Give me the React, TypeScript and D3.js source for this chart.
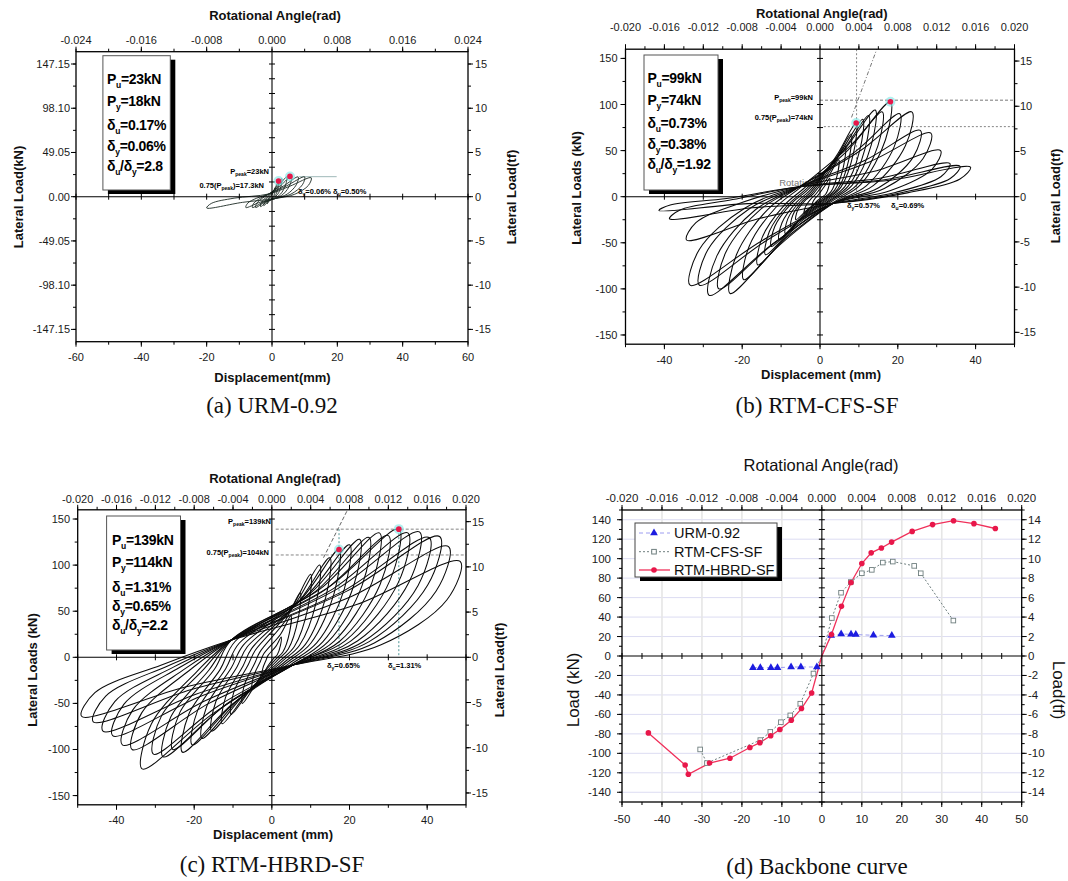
import React from "react";
import * as d3 from "d3";

// ------------------------------------------------------------------
// DATA
// ------------------------------------------------------------------
// hysteresis cycles: [positive peak disp (mm), positive peak load (kN), negative peak disp, negative peak load]
const URM_CYCLES: number[][] = [
  [1, 10, -1, -5],
  [2, 17, -1.5, -8],
  [3, 20, -2.5, -10],
  [4.5, 22, -3.5, -11],
  [6, 23, -5, -12],
  [8, 22, -6, -12],
  [10, 22, -8, -12],
  [12, 21, -20, -12.5],
];
const CFS_CYCLES: number[][] = [
  [2.5, 20, -2, -10],
  [4.8, 40, -4, -18],
  [6.5, 55, -6.2, -25],
  [8, 68, -7.5, -33],
  [9.3, 80, -8.9, -40],
  [11, 84, -10.5, -47],
  [12.5, 88, -12.5, -54],
  [14.2, 94, -14, -63],
  [16, 92, -16, -74],
  [18.1, 103, -19.6, -90],
  [20.5, 90, -23.1, -105],
  [23.6, 92, -26, -100],
  [25.8, 72, -28.5, -107],
  [28.5, 69, -31, -96],
  [31, 50, -33.4, -96],
  [33.4, 36, -34.3, -47],
  [36, 33, -38.7, -24],
  [38.7, 32, -41.4, -15],
];
const HBRD_CYCLES: number[][] = [
  [2.4, 22, -2.5, -20],
  [4.9, 45, -5.1, -35],
  [7.3, 70, -7.6, -50],
  [10, 90, -10.5, -62],
  [12.3, 100, -12.8, -72],
  [14.9, 108, -15.5, -80],
  [17.3, 117, -18, -88],
  [20, 122, -20.5, -95],
  [22.6, 128, -23, -103],
  [25, 130, -25.5, -100],
  [27.7, 135, -28, -108],
  [30, 132, -30.5, -105],
  [32.7, 139, -33.4, -121],
  [35, 135, -36, -100],
  [38, 136, -38.5, -95],
  [40.5, 130, -41, -85],
  [43.2, 131, -43.5, -80],
  [45.5, 120, -46, -70],
  [48.5, 104, -49, -64],
];
// pinching zone of each specimen: [disp, load] where the branches cross near the origin
const URM_PINCH = { up: [-1, 3], low: [1, -2], ref: 10 };
const CFS_PINCH = { up: [-5.3, 10.8], low: [3.5, -7], ref: 40 };
const HBRD_PINCH = { up: [-10.4, 18.8], low: [5.4, -8.4], ref: 50 };

// backbone curves (d): [disp mm, load kN]
const BB_URM: number[][] = [
  [-17.25, -12], [-15.4, -12], [-12.75, -12], [-11.1, -12], [-7.7, -11.3], [-5.25, -11.3], [-1.25, -11.3],
  [0, 0], [2.33, 21], [4.83, 22.6], [7.3, 22.3], [8.5, 22], [12.9, 21.3], [17.5, 21],
];
const BB_CFS: number[][] = [
  [-30.45, -96], [-28.75, -110], [-15.4, -86.4], [-12.9, -78], [-10.25, -68], [-7.9, -61], [-5.4, -49], [-2.1, -18],
  [0, 0], [2.5, 39], [4.8, 65], [7.25, 76], [10, 85], [12.5, 88.5], [15.25, 96], [17.75, 97], [23.1, 92.6], [24.75, 85], [32.9, 36.4],
];
const BB_HBRD: number[][] = [
  [-43.4, -79], [-34.2, -112], [-33.4, -121.5], [-28.1, -110], [-23, -105], [-18, -94], [-15.5, -89], [-12.8, -82],
  [-10.5, -75.5], [-7.65, -66], [-5.1, -54], [-2.55, -38], [0, 0], [2.4, 22], [4.9, 51], [7.3, 75.5], [10, 95],
  [12.35, 106], [14.9, 111], [17.45, 117], [22.6, 128], [27.7, 135], [32.95, 139], [38.05, 136], [43.4, 131],
];
const LEGEND_D = ["URM-0.92", "RTM-CFS-SF", "RTM-HBRD-SF"];

// text boxes
const BOX_A = ["P_{u}=23kN", "P_{y}=18kN", "δ_{u}=0.17%", "δ_{y}=0.06%", "δ_{u}/δ_{y}=2.8"];
const BOX_B = ["P_{u}=99kN", "P_{y}=74kN", "δ_{u}=0.73%", "δ_{y}=0.38%", "δ_{u}/δ_{y}=1.92"];
const BOX_C = ["P_{u}=139kN", "P_{y}=114kN", "δ_{u}=1.31%", "δ_{y}=0.65%", "δ_{u}/δ_{y}=2.2"];

// key points (red dots) [disp, load]
const KEY_A: number[][] = [[2, 17.4], [5.5, 22.5]];
const KEY_B: number[][] = [[9.3, 80], [18.1, 103]];
const KEY_C: number[][] = [[17.3, 117], [32.7, 139]];

// tick labels
const X_TICKS_A = ["-60", "-40", "-20", "0", "20", "40", "60"];
const TOP_TICKS_A = ["-0.024", "-0.016", "-0.008", "0.000", "0.008", "0.016", "0.024"];
const LEFT_TICKS_A = ["147.15", "98.10", "49.05", "0.00", "-49.05", "-98.10", "-147.15"];
const RIGHT_TICKS_15 = ["15", "10", "5", "0", "-5", "-10", "-15"];
const X_TICKS_BC = ["-40", "-20", "0", "20", "40"];
const TOP_TICKS_20 = ["-0.020", "-0.016", "-0.012", "-0.008", "-0.004", "0.000", "0.004", "0.008", "0.012", "0.016", "0.020"];
const LEFT_TICKS_BC = ["150", "100", "50", "0", "-50", "-100", "-150"];
const X_TICKS_D = ["-50", "-40", "-30", "-20", "-10", "0", "10", "20", "30", "40", "50"];
const LEFT_TICKS_D = ["140", "120", "100", "80", "60", "40", "20", "0", "-20", "-40", "-60", "-80", "-100", "-120", "-140"];
const RIGHT_TICKS_D = ["14", "12", "10", "8", "6", "4", "2", "0", "-2", "-4", "-6", "-8", "-10", "-12", "-14"];

// ------------------------------------------------------------------
const RAD_H = 2500; // mm per rad for the rotational-angle axis
const SANS = "'Liberation Sans', Arial, sans-serif";
const SERIF = "'Liberation Serif', 'Times New Roman', serif";

type Cfg = {
  id: string;
  L: number; R: number; T: number; B: number;
  xDom: [number, number]; yDom: [number, number]; tfDiv: number;
  xTicks: string[]; xMinor: number;
  topTicks: string[]; topMinor: number;
  leftTicks: string[]; leftMinor: number;
  rightTicks: string[]; rightMinor: number;
  cx: number; cy: number;
  fs: number;
  topY: number; botY: number; leftX: number; rightX: number;
};

function scales(c: Cfg) {
  const x = d3.scaleLinear().domain(c.xDom).range([c.L, c.R]);
  const y = d3.scaleLinear().domain(c.yDom).range([c.B, c.T]);
  const xr = d3.scaleLinear().domain([c.xDom[0] / RAD_H, c.xDom[1] / RAD_H]).range([c.L, c.R]);
  const yt = d3.scaleLinear().domain([c.yDom[0] / c.tfDiv, c.yDom[1] / c.tfDiv]).range([c.B, c.T]);
  return { x, y, xr, yt };
}

function steps(dom: number[], step: number) {
  const out: number[] = [];
  const s = Math.ceil(dom[0] / step - 1e-9);
  const e = Math.floor(dom[1] / step + 1e-9);
  for (let i = s; i <= e; i++) out.push(+(i * step).toFixed(6));
  return out;
}

function Axes({ c }: { c: Cfg }) {
  const { x, y, xr, yt } = scales(c);
  let p = "";
  const M = 5, m = 3;
  c.xTicks.forEach((t) => (p += `M${x(+t)},${c.B}v${M}`));
  steps(c.xDom, c.xMinor).forEach((v) => (p += `M${x(v)},${c.B}v${m}`));
  c.topTicks.forEach((t) => (p += `M${xr(+t)},${c.T}v${-M}`));
  steps(xr.domain(), c.topMinor).forEach((v) => (p += `M${xr(v)},${c.T}v${-m}`));
  c.leftTicks.forEach((t) => (p += `M${c.L},${y(+t)}h${-M}`));
  steps(c.yDom, c.leftMinor).forEach((v) => (p += `M${c.L},${y(v)}h${-m}`));
  c.rightTicks.forEach((t) => (p += `M${c.R},${yt(+t)}h${M}`));
  steps(yt.domain(), c.rightMinor).forEach((v) => (p += `M${c.R},${yt(v)}h${m}`));
  const x0 = x(0), y0 = y(0);
  steps(c.xDom, c.cx).forEach((v) => v !== 0 && (p += `M${x(v)},${y0 - 3}v6`));
  steps(c.yDom, c.cy).forEach((v) => v !== 0 && (p += `M${x0 - 3},${y(v)}h6`));
  const lab = { fontSize: c.fs, fill: "#1a1a1a", fontFamily: SANS } as any;
  return (
    <g>
      <line x1={c.L} x2={c.R} y1={y0} y2={y0} stroke="#000" strokeWidth={1.1} />
      <line x1={x0} x2={x0} y1={c.T} y2={c.B} stroke="#000" strokeWidth={1.1} />
      <rect x={c.L} y={c.T} width={c.R - c.L} height={c.B - c.T} fill="none" stroke="#000" strokeWidth={1.3} />
      <path d={p} stroke="#000" strokeWidth={1} fill="none" />
      {c.xTicks.map((t) => (
        <text key={"b" + t} x={x(+t)} y={c.botY} textAnchor="middle" dominantBaseline="central" {...lab}>{t}</text>
      ))}
      {c.topTicks.map((t) => (
        <text key={"t" + t} x={xr(+t)} y={c.topY} textAnchor="middle" dominantBaseline="central" {...lab}>{t}</text>
      ))}
      {c.leftTicks.map((t) => (
        <text key={"l" + t} x={c.leftX} y={y(+t)} textAnchor="end" dominantBaseline="central" {...lab}>{t}</text>
      ))}
      {c.rightTicks.map((t) => (
        <text key={"r" + t} x={c.rightX} y={yt(+t)} textAnchor="start" dominantBaseline="central" {...lab}>{t}</text>
      ))}
    </g>
  );
}

function SubText({ x, y, s, size, sub, weight, anchor, fill, ls }: any) {
  const parts = s.split(/_\{([^}]*)\}/);
  const sh = size * 0.3;
  return (
    <text x={x} y={y} fontSize={size} fontWeight={weight || "bold"} textAnchor={anchor || "start"} fill={fill || "#000"} fontFamily={SANS} letterSpacing={ls || 0}>
      {parts.map((pt: string, i: number) =>
        i % 2 ? (
          <tspan key={i} fontSize={sub} dy={sh}>{pt}</tspan>
        ) : (
          <tspan key={i} dy={i > 0 ? -sh : 0}>{pt}</tspan>
        )
      )}
    </text>
  );
}

function loopPoints(cy: number[], pinch: any): number[][] {
  const [dp, Pp, dn, Pn] = cy;
  const s = Math.min(1, (dp - dn) / pinch.ref);
  return [
    [dp, Pp],
    [0.93 * dp, 0.6 * Pp],
    [0.58 * dp, 0.13 * Pp],
    [pinch.low[0] * s, pinch.low[1] * s],
    [0.45 * dn, 0.5 * Pn],
    [dn, Pn],
    [0.93 * dn, 0.6 * Pn],
    [0.58 * dn, 0.13 * Pn],
    [pinch.up[0] * s, pinch.up[1] * s],
    [0.45 * dp, 0.55 * Pp],
  ];
}

function Hyst({ c, cycles, pinch, color, w }: any) {
  const { x, y } = scales(c);
  const line = d3
    .line<number[]>()
    .x((d) => x(d[0]))
    .y((d) => y(d[1]))
    .curve(d3.curveCatmullRomClosed.alpha(0.5));
  return (
    <g clipPath={`url(#clip${c.id})`}>
      {cycles.map((cy: number[], i: number) => (
        <path key={i} d={line(loopPoints(cy, pinch)) || ""} fill="none" stroke={color || "#0a0a0a"} strokeWidth={w || 1.05} />
      ))}
    </g>
  );
}

function TextBox({ x0, y0, x1, y1, tx, lines, ly }: any) {
  return (
    <g>
      <rect x={x0 + 5} y={y0 + 4} width={x1 - x0} height={y1 - y0} fill="#000" />
      <rect x={x0} y={y0} width={x1 - x0} height={y1 - y0} fill="#fff" stroke="#555" strokeWidth={1} />
      {lines.map((s: string, i: number) => (
        <SubText key={i} x={tx} y={ly[i] + 5.2} s={s} size={14} sub={8.5} ls={-0.3} />
      ))}
    </g>
  );
}

function Titles({ t }: any) {
  return (
    <g fontFamily={SANS}>
      {t.map((o: any, i: number) => (
        <text
          key={i}
          transform={`translate(${o.x},${o.y}) rotate(${o.rot || 0})`}
          textAnchor="middle"
          dominantBaseline="central"
          fontSize={o.size}
          fontWeight={o.w || "bold"}
          fontFamily={o.serif ? SERIF : SANS}
          fill="#111"
        >
          {o.s}
        </text>
      ))}
    </g>
  );
}

function KeyDots({ c, pts }: any) {
  const { x, y } = scales(c);
  return (
    <g>
      {pts.map((p: number[], i: number) => (
        <g key={i}>
          <circle cx={x(p[0])} cy={y(p[1])} r={5} fill="#7fe6e6" opacity={0.6} />
          <circle cx={x(p[0])} cy={y(p[1])} r={2.8} fill="#e8174a" />
        </g>
      ))}
    </g>
  );
}

function Seg({ c, a, b, dash, color, w }: any) {
  const { x, y } = scales(c);
  return <line x1={x(a[0])} y1={y(a[1])} x2={x(b[0])} y2={y(b[1])} stroke={color || "#555"} strokeWidth={w || 0.9} strokeDasharray={dash} />;
}

// ------------------------------------------------------------------
const CFG_A: Cfg = {
  id: "A", L: 76, R: 468, T: 51.7, B: 341.7, xDom: [-60, 60], yDom: [-160.8, 160.8], tfDiv: 9.81,
  xTicks: X_TICKS_A, xMinor: 10, topTicks: TOP_TICKS_A, topMinor: 0.004,
  leftTicks: LEFT_TICKS_A, leftMinor: 24.525, rightTicks: RIGHT_TICKS_15, rightMinor: 2.5,
  cx: 10, cy: 16.35, fs: 11, topY: 39.5, botY: 357, leftX: 70, rightX: 475,
};
const CFG_B: Cfg = {
  id: "B", L: 625.5, R: 1014.5, T: 49.2, B: 344.2, xDom: [-50, 50], yDom: [-160, 160], tfDiv: 9.81,
  xTicks: X_TICKS_BC, xMinor: 10, topTicks: TOP_TICKS_20, topMinor: 0.002,
  leftTicks: LEFT_TICKS_BC, leftMinor: 25, rightTicks: RIGHT_TICKS_15, rightMinor: 2.5,
  cx: 10, cy: 25, fs: 11, topY: 27, botY: 360, leftX: 617.5, rightX: 1020,
};
const CFG_C: Cfg = {
  id: "C", L: 77.7, R: 466, T: 509.8, B: 804.8, xDom: [-50, 50], yDom: [-160, 160], tfDiv: 9.81,
  xTicks: X_TICKS_BC, xMinor: 10, topTicks: TOP_TICKS_20, topMinor: 0.002,
  leftTicks: LEFT_TICKS_BC, leftMinor: 25, rightTicks: RIGHT_TICKS_15, rightMinor: 2.5,
  cx: 10, cy: 25, fs: 11, topY: 498.5, botY: 820, leftX: 70, rightX: 472,
};
const CFG_D: Cfg = {
  id: "D", L: 622, R: 1021.7, T: 510, B: 802, xDom: [-50, 50], yDom: [-150, 150], tfDiv: 10,
  xTicks: X_TICKS_D, xMinor: 5, topTicks: TOP_TICKS_20, topMinor: 0.002,
  leftTicks: LEFT_TICKS_D, leftMinor: 10, rightTicks: RIGHT_TICKS_D, rightMinor: 1,
  cx: 5, cy: 10, fs: 11.5, topY: 497.5, botY: 818.5, leftX: 611, rightX: 1028,
};

function Backbone({ c }: { c: Cfg }) {
  const { x, y } = scales(c);
  const line = d3.line<number[]>().x((d) => x(d[0])).y((d) => y(d[1]));
  const tri = d3.symbol().type(d3.symbolTriangle).size(26)() || "";
  const gridH = steps(c.yDom, 20).filter((v) => v !== 0 && Math.abs(v) < 150);
  const gridV = steps(c.xDom, 10).filter((v) => v !== 0 && Math.abs(v) < 50);
  const mk = (pts: number[][]) => pts.filter((p) => p[0] !== 0);
  return (
    <g>
      {gridH.map((v) => (
        <line key={"h" + v} x1={c.L} x2={c.R} y1={y(v)} y2={y(v)} stroke="#dcdcf2" strokeWidth={1} />
      ))}
      {gridV.map((v) => (
        <line key={"v" + v} x1={x(v)} x2={x(v)} y1={c.T} y2={c.B} stroke="#e6e6e6" strokeWidth={1.6} />
      ))}
      <path d={line(BB_URM) || ""} fill="none" stroke="#9c9cf0" strokeWidth={1} strokeDasharray="4,3" />
      <path d={line(BB_CFS) || ""} fill="none" stroke="#6f7f7f" strokeWidth={1} strokeDasharray="2,2" />
      <path d={line(BB_HBRD) || ""} fill="none" stroke="#f0305a" strokeWidth={1.3} />
      {mk(BB_URM).map((p, i) => (
        <path key={"u" + i} d={tri} transform={`translate(${x(p[0])},${y(p[1])})`} fill="#1d1de0" />
      ))}
      {mk(BB_CFS).map((p, i) => (
        <rect key={"c" + i} x={x(p[0]) - 2.3} y={y(p[1]) - 2.3} width={4.6} height={4.6} fill="#fff" stroke="#6f7f7f" strokeWidth={0.9} />
      ))}
      {mk(BB_HBRD).map((p, i) => (
        <circle key={"r" + i} cx={x(p[0])} cy={y(p[1])} r={2.8} fill="#e8174a" />
      ))}
    </g>
  );
}

function LegendD() {
  const x0 = 635, y0 = 523, x1 = 777, y1 = 577;
  const ys = [533, 551.7, 570];
  const tri = d3.symbol().type(d3.symbolTriangle).size(26)() || "";
  return (
    <g>
      <rect x={x0 + 5} y={y0 + 4} width={x1 - x0} height={y1 - y0} fill="#000" />
      <rect x={x0} y={y0} width={x1 - x0} height={y1 - y0} fill="#fff" stroke="#444" strokeWidth={1} />
      <line x1={639} x2={670} y1={ys[0]} y2={ys[0]} stroke="#9c9cf0" strokeDasharray="4,3" />
      <path d={tri} transform={`translate(654,${ys[0]})`} fill="#1d1de0" />
      <line x1={639} x2={670} y1={ys[1]} y2={ys[1]} stroke="#6f7f7f" strokeDasharray="2,2" />
      <rect x={654 - 2.3} y={ys[1] - 2.3} width={4.6} height={4.6} fill="#fff" stroke="#6f7f7f" />
      <line x1={639} x2={670} y1={ys[2]} y2={ys[2]} stroke="#f0305a" strokeWidth={1.3} />
      <circle cx={654} cy={ys[2]} r={2.8} fill="#e8174a" />
      {LEGEND_D.map((s, i) => (
        <text key={s} x={674} y={ys[i]} dominantBaseline="central" fontSize={14.5} fontFamily={SANS} fill="#111">{s}</text>
      ))}
    </g>
  );
}

function Clip({ c }: { c: Cfg }) {
  return (
    <clipPath id={"clip" + c.id}>
      <rect x={c.L} y={c.T} width={c.R - c.L} height={c.B - c.T} />
    </clipPath>
  );
}

export default function App() {
  return (
    <div style={{ position: "absolute", left: 0, top: 0 }}>
      <svg width={1068} height={881} style={{ display: "block", background: "#fff" }}>
        <defs>
          <Clip c={CFG_A} />
          <Clip c={CFG_B} />
          <Clip c={CFG_C} />
          <Clip c={CFG_D} />
        </defs>

        {/* ---------------- (a) ---------------- */}
        <Seg c={CFG_A} a={[8.3, 22.2]} b={[19.8, 22.2]} color="#9fb8b8" w={1} />
        <Hyst c={CFG_A} cycles={URM_CYCLES} pinch={URM_PINCH} color="#1c2a24" w={0.9} />
        <Axes c={CFG_A} />
        <KeyDots c={CFG_A} pts={KEY_A} />
        <SubText x={269} y={174} s="P_{peak}=23kN" size={7.5} sub={5} anchor="end" />
        <SubText x={264} y={188} s="0.75(P_{peak})=17.3kN" size={7.5} sub={5} anchor="end" />
        <SubText x={298} y={194} s="δ_{y}=0.06%  δ_{u}=0.50%" size={7.5} sub={5} />
        <TextBox x0={102.9} y0={55.7} x1={170.3} y1={190} tx={107} lines={BOX_A} ly={[79, 100.7, 125, 145.7, 165.7]} />
        <Titles
          t={[
            { s: "Rotational Angle(rad)", x: 275, y: 15, size: 13 },
            { s: "Displacement(mm)", x: 272.5, y: 377, size: 13 },
            { s: "Lateral Load(kN)", x: 18.7, y: 197, size: 13, rot: -90 },
            { s: "Lateral Load(tf)", x: 511, y: 197, size: 13, rot: -90 },
            { s: "(a) URM-0.92", x: 272, y: 405, size: 23, w: "normal", serif: true },
          ]}
        />

        {/* ---------------- (b) ---------------- */}
        <Seg c={CFG_B} a={[0, 104.7]} b={[50, 104.7]} dash="3,2" color="#666" />
        <Seg c={CFG_B} a={[1, 76]} b={[50, 76]} dash="2,2" color="#777" />
        <Seg c={CFG_B} a={[9.4, 160]} b={[9.4, 0]} dash="2,2" color="#777" />
        <Seg c={CFG_B} a={[8.1, 86]} b={[14.6, 160]} dash="4,2,1,2" color="#666" />
        <text x={822} y={182} textAnchor="end" dominantBaseline="central" fontSize={9.5} fill="#777" fontFamily={SANS}>Rotational</text>
        <Hyst c={CFG_B} cycles={CFS_CYCLES} pinch={CFS_PINCH} />
        <Axes c={CFG_B} />
        <KeyDots c={CFG_B} pts={KEY_B} />
        <SubText x={813} y={100} s="P_{peak}=99kN" size={7.5} sub={5} anchor="end" />
        <SubText x={813} y={120} s="0.75(P_{peak})=74kN" size={7.5} sub={5} anchor="end" />
        <SubText x={847} y={208} s="δ_{y}=0.57%" size={7.5} sub={5} />
        <SubText x={891} y={208} s="δ_{u}=0.69%" size={7.5} sub={5} />
        <TextBox x0={644} y0={55} x1={718} y1={190} tx={647.5} lines={BOX_B} ly={[77.3, 100, 122.7, 144, 164]} />
        <Titles
          t={[
            { s: "Rotational Angle(rad)", x: 821.8, y: 13, size: 13 },
            { s: "Displacement (mm)", x: 821, y: 374, size: 13 },
            { s: "Lateral Loads (kN)", x: 576.6, y: 188, size: 13, rot: -90 },
            { s: "Lateral Load(tf)", x: 1055, y: 196, size: 13, rot: -90 },
            { s: "(b) RTM-CFS-SF", x: 817, y: 405, size: 23, w: "normal", serif: true },
          ]}
        />

        {/* ---------------- (c) ---------------- */}
        <Seg c={CFG_C} a={[1, 139]} b={[50, 139]} dash="3,2" color="#777" />
        <Seg c={CFG_C} a={[1, 111]} b={[50, 111]} dash="3,2" color="#777" />
        <Seg c={CFG_C} a={[13.3, 108]} b={[19.5, 160]} dash="4,2" color="#555" />
        <Seg c={CFG_C} a={[17.3, 139]} b={[17.3, 0]} dash="2,2" color="#3a8a8a" />
        <Seg c={CFG_C} a={[32.7, 139]} b={[32.7, 0]} dash="2,2" color="#3a8a8a" />
        <Hyst c={CFG_C} cycles={HBRD_CYCLES} pinch={HBRD_PINCH} />
        <Axes c={CFG_C} />
        <KeyDots c={CFG_C} pts={KEY_C} />
        <SubText x={271} y={524} s="P_{peak}=139kN" size={7.5} sub={5} anchor="end" />
        <SubText x={269} y={555} s="0.75(P_{peak})=104kN" size={7.5} sub={5} anchor="end" />
        <SubText x={327} y={668} s="δ_{y}=0.65%" size={7.5} sub={5} />
        <SubText x={388} y={668} s="δ_{u}=1.31%" size={7.5} sub={5} />
        <TextBox x0={106.6} y0={516} x1={180.5} y1={650} tx={112} lines={BOX_C} ly={[540, 561.7, 586.7, 605.7, 625]} />
        <Titles
          t={[
            { s: "Rotational Angle(rad)", x: 275, y: 478.5, size: 13 },
            { s: "Displacement (mm)", x: 273, y: 834, size: 13 },
            { s: "Lateral Loads (kN)", x: 32.4, y: 670, size: 13, rot: -90 },
            { s: "Lateral Load(tf)", x: 499, y: 670, size: 13, rot: -90 },
            { s: "(c) RTM-HBRD-SF", x: 272, y: 864, size: 23, w: "normal", serif: true },
          ]}
        />

        {/* ---------------- (d) ---------------- */}
        <Backbone c={CFG_D} />
        <Axes c={CFG_D} />
        <LegendD />
        <Titles
          t={[
            { s: "Rotational Angle(rad)", x: 821, y: 465, size: 16.5, w: "normal" },
            { s: "Load (kN)", x: 573, y: 690, size: 17, w: "normal", rot: -90 },
            { s: "Load(tf)", x: 1058, y: 690, size: 17, w: "normal", rot: 90 },
            { s: "(d) Backbone curve", x: 817, y: 866, size: 23, w: "normal", serif: true },
          ]}
        />
      </svg>
    </div>
  );
}
